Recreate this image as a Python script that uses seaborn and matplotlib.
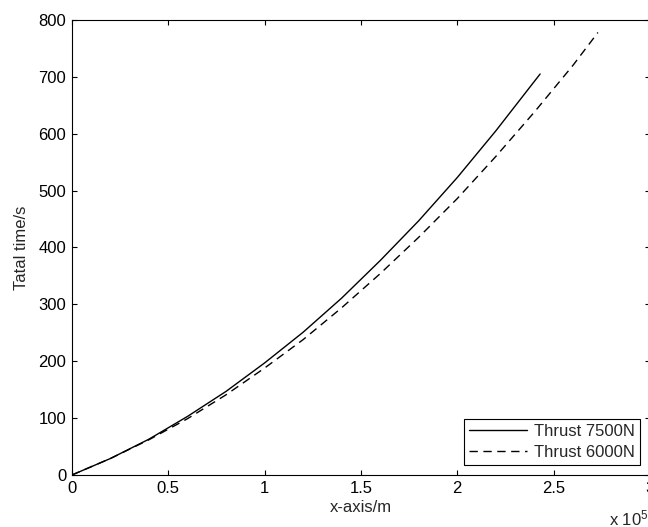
import numpy as np
import pandas as pd
import seaborn as sns
import matplotlib.pyplot as plt

# x in units of 1e5 m, total time in s
x_7500 = [0, 0.2, 0.4, 0.6, 0.8, 1.0, 1.2, 1.4, 1.6, 1.8, 2.0, 2.2, 2.4, 2.43]
t_7500 = [0, 29, 63, 103, 147, 197, 251, 311, 377, 447, 523, 605, 692, 705]
x_6000 = [0, 0.2, 0.4, 0.6, 0.8, 1.0, 1.2, 1.4, 1.6, 1.8, 2.0, 2.2, 2.4, 2.6, 2.73]
t_6000 = [0, 29, 62, 99, 141, 188, 238, 294, 354, 418, 486, 560, 638, 720, 778]
labels = ["Thrust 7500N", "Thrust 6000N"]

sns.set_theme(style="ticks")
plt.rcParams['font.family'] = ['Liberation Sans', 'DejaVu Sans']
plt.rcParams['mathtext.default'] = 'regular'
plt.rcParams['axes.linewidth'] = 0.8

fig = plt.figure(figsize=(6.48, 5.27), dpi=100)
ax = fig.add_axes([0.111, 0.0987, 0.892, 0.8634])

sns.lineplot(x=x_7500, y=t_7500, ax=ax, color="black", linewidth=1.0,
             label=labels[0])
sns.lineplot(x=x_6000, y=t_6000, ax=ax, color="black", linewidth=1.0,
             linestyle=(0, (6, 4)), label=labels[1])

ax.set_xlim(0, 3)
ax.set_ylim(0, 800)
ax.set_xticks([0, 0.5, 1, 1.5, 2, 2.5, 3])
ax.set_xticklabels(["0", "0.5", "1", "1.5", "2", "2.5", "3"])
ax.set_yticks(range(0, 801, 100))
ax.tick_params(direction="in", top=True, right=True, length=3.5, width=0.8,
               labelsize=12, colors="black", pad=4)
for s in ax.spines.values():
    s.set_visible(True)
    s.set_color("black")

ax.set_xlabel("x-axis/m", fontsize=12, labelpad=3)
ax.set_ylabel("Tatal time/s", fontsize=12, labelpad=7)

leg = ax.legend(loc="lower right", fontsize=12, frameon=True, fancybox=False,
                edgecolor="black", framealpha=1, handlelength=3.5,
                borderaxespad=0.6, borderpad=0.3, labelspacing=0.35,
                handletextpad=0.4)
leg.get_frame().set_linewidth(0.8)

fig.text(609 / 648, 1 - 525 / 527, "x 10$^5$", fontsize=12, ha="left",
         va="baseline")

plt.savefig("out.png", dpi=100, facecolor="white")
